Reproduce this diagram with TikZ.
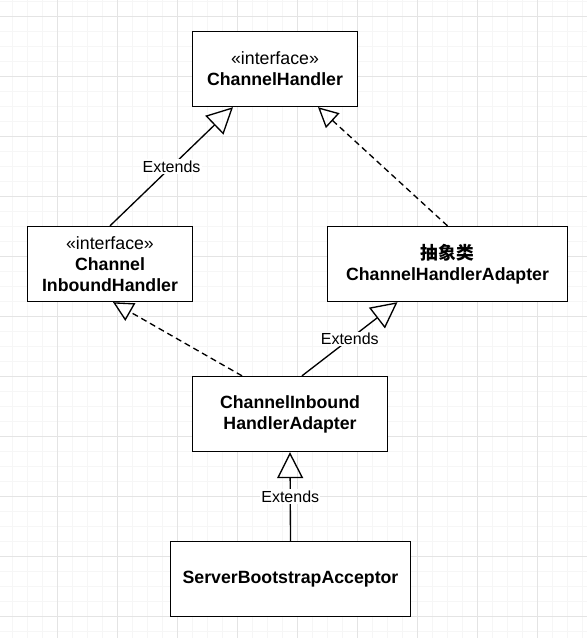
\documentclass[tikz,border=0pt]{standalone}
\usepackage{fontspec}
\setmainfont{Liberation Sans}
\newfontfamily\cjk{Noto Sans CJK SC}
\usetikzlibrary{arrows.meta,calc}
\definecolor{minorgrid}{RGB}{246,246,246}
\definecolor{majorgrid}{RGB}{228,228,228}
\begin{document}
\begin{tikzpicture}[x=0.75pt,y=-0.75pt,
  box/.style={draw=black,line width=1pt,fill=white,rectangle,inner sep=0pt,align=center,
    font=\fontsize{13.3pt}{15.75pt}\selectfont},
  ext/.style={draw=black,line width=1pt,-{Triangle[open,length=19.5pt,width=19.5pt,line width=1pt]}},
  real/.style={draw=black,line width=1pt,dash pattern=on 4.5pt off 3pt,-{Triangle[open,length=15pt,width=15pt,line width=1pt]}},
  lbl/.style={fill=white,inner sep=1pt,font=\fontsize{12pt}{14pt}\selectfont}]
\useasboundingbox (0,0) rectangle (587,638);
\fill[white] (0,0) rectangle (587,638);
% grid
\foreach \i in {0,...,38} \draw[minorgrid,line width=0.75pt] (12.5+15*\i,0) -- (12.5+15*\i,638);
\foreach \i in {0,...,42} \draw[minorgrid,line width=0.75pt] (0,1.5+15*\i) -- (587,1.5+15*\i);
\foreach \i in {0,...,9} \draw[majorgrid,line width=0.75pt] (57.5+60*\i,0) -- (57.5+60*\i,638);
\foreach \i in {0,...,10} \draw[majorgrid,line width=0.75pt] (0,16.5+60*\i) -- (587,16.5+60*\i);
% nodes
\node[box,minimum width=123.75pt,minimum height=56.25pt] (ch) at (275,69) {«interface»\\\textbf{ChannelHandler}};
\node[box,minimum width=123.75pt,minimum height=56.25pt] (ih) at (110,264) {«interface»\\\textbf{Channel}\\\textbf{InboundHandler}};
\node[box,minimum width=180pt,minimum height=56.25pt] (cha) at (447.5,264) {{\cjk\bfseries 抽象类}\\\textbf{ChannelHandlerAdapter}};
\node[box,minimum width=146.25pt,minimum height=56.25pt] (iha) at (290,414) {\textbf{ChannelInbound}\\\textbf{HandlerAdapter}};
\node[box,minimum width=180pt,minimum height=56.25pt] (sba) at (290.5,579) {\textbf{ServerBootstrapAcceptor}};
% connectors
\draw[ext] (ih.north) -- node[lbl,pos=0.5] {Extends} ($(ch.south)+(-42,0)$);
\draw[real] (cha.north) -- ($(ch.south)+(43,0)$);
\draw[real] ($(iha.north)+(-48,0)$) -- ($(ih.south)+(3,0)$);
\draw[ext] ($(iha.north)+(12,0)$) -- node[lbl,pos=0.5] {Extends} ($(cha.south)+(-50,0)$);
\draw[ext] (sba.north) -- node[lbl,pos=0.5] {Extends} (iha.south);
\end{tikzpicture}
\end{document}
